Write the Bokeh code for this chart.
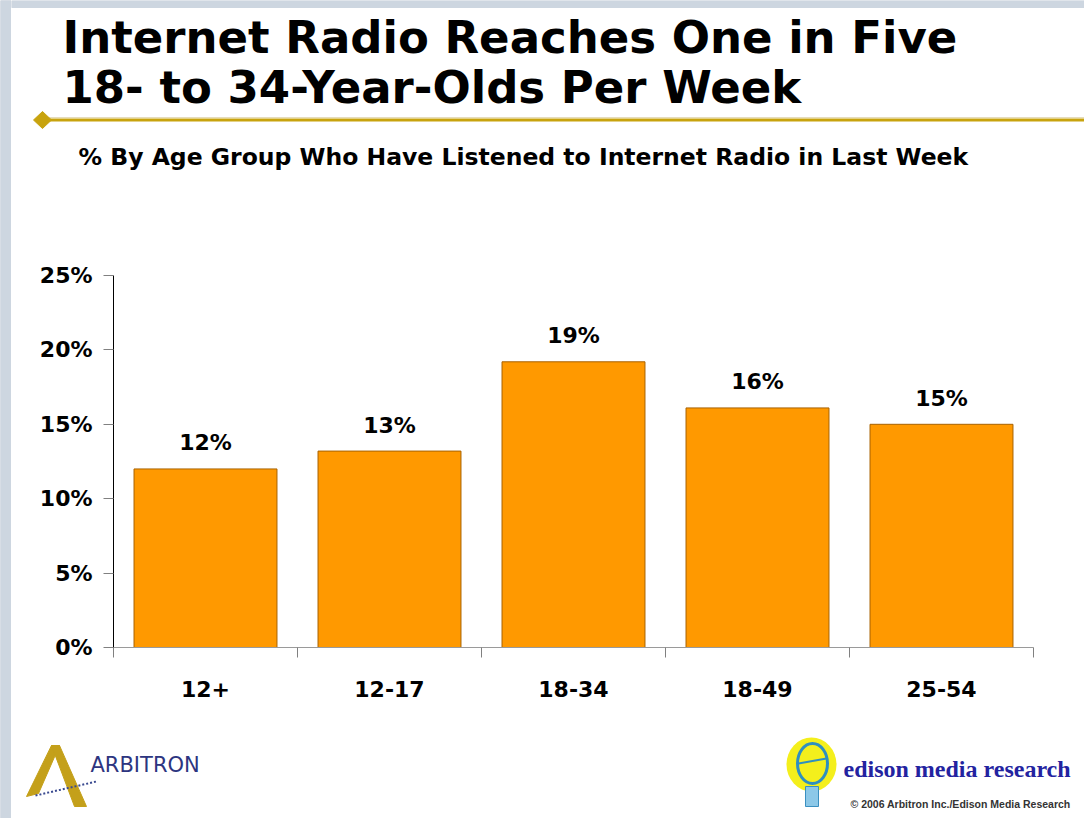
from bokeh.plotting import figure
from bokeh.models import Range1d, FixedTicker
from bokeh.layouts import row, column
from bokeh.core.properties import value
from bokeh.embed import file_html
from bokeh.resources import INLINE

# ---------------- data ----------------
categories = ["12+", "12-17", "18-34", "18-49", "25-54"]
pct_listened = [12.0, 13.2, 19.2, 16.1, 15.0]
y_ticks = [0, 5, 10, 15, 20, 25]
y_tick_labels = ["0%", "5%", "10%", "15%", "20%", "25%"]

title_lines = ["Internet Radio Reaches One in Five", "18- to 34-Year-Olds Per Week"]
subtitle = "% By Age Group Who Have Listened to Internet Radio in Last Week"
logo_left = "ARBITRON"
logo_right = "edison media research"
copyright_text = "\u00a9 2006 Arbitron Inc./Edison Media Research"

# ---------------- styles ----------------
BG = "#cdd6e0"
GOLD = "#c8a30e"
ORANGE = "#ff9900"
BAR_EDGE = "#a86200"
SANS = value("DejaVu Sans")
ARIAL = value("Liberation Sans")
SERIF = value("Liberation Serif")

W_MAIN = 1073  # canvas x 11..1084


def blank(width, height, xr, yr):
    f = figure(width=width, height=height, x_range=xr, y_range=yr,
               output_backend="svg", toolbar_location=None,
               x_axis_location=None, y_axis_location=None,
               min_border=0, outline_line_color=None,
               background_fill_color="white", border_fill_color="white")
    f.frame_align = False
    f.xgrid.visible = False
    f.ygrid.visible = False
    return f


# left blue-grey strip
stripe = blank(11, 818, Range1d(0, 1), Range1d(0, 1))
stripe.background_fill_color = BG
stripe.border_fill_color = BG
stripe.quad(left=[0], right=[1], bottom=[0], top=[1], color=BG)

# ---------------- header ----------------
hdr = blank(W_MAIN, 245, Range1d(11, 1084), Range1d(245, 0))
hdr.quad(left=[11], right=[1084], top=[0], bottom=[7], color=BG)
hdr.text(x=[62, 62], y=[37, 87], text=title_lines, text_font=SANS,
         text_font_style="bold", text_font_size="45px", text_color="black",
         text_baseline="alphabetic", text_align="left")
hdr.segment(x0=[42], y0=[117], x1=[1084], y1=[117], line_color="#e6dcbc", line_width=1)
hdr.segment(x0=[42], y0=[119.5], x1=[1084], y1=[119.5], line_color=GOLD, line_width=3)
hdr.patch(x=[33, 42, 51, 42], y=[119.5, 111, 119.5, 128], color=GOLD)
hdr.text(x=[78], y=[156], text=[subtitle], text_font=SANS, text_font_style="bold",
         text_font_size="23.5px", text_color="black",
         text_baseline="alphabetic", text_align="left")

# ---------------- chart ----------------
n = len(categories)
x_centers = [i + 0.5 for i in range(n)]
value_labels = [f"{round(v)}%" for v in pct_listened]

p = figure(width=W_MAIN, height=480, x_range=Range1d(0, n), y_range=Range1d(0, 25),
           output_backend="svg", toolbar_location=None,
           min_border_left=102, min_border_right=51, min_border_top=30, min_border_bottom=78,
           outline_line_color=None, background_fill_color="white", border_fill_color="white")
p.frame_align = False
p.xgrid.visible = False
p.ygrid.visible = False

p.vbar(x=x_centers, top=pct_listened, bottom=0, width=0.777,
       fill_color=ORANGE, line_color=BAR_EDGE, line_width=1)
p.text(x=x_centers, y=pct_listened, text=value_labels, y_offset=-26,
       text_font=SANS, text_font_style="bold", text_font_size="22px",
       text_color="black", text_align="center", text_baseline="alphabetic")

# y axis
p.yaxis.ticker = FixedTicker(ticks=y_ticks)
p.yaxis.major_label_overrides = {t: l for t, l in zip(y_ticks, y_tick_labels)}
p.yaxis.axis_line_color = "black"
p.yaxis.major_tick_line_color = "#808080"
p.yaxis.major_tick_out = 10
p.yaxis.major_tick_in = 0
p.yaxis.minor_tick_line_color = None
p.yaxis.major_label_standoff = 11
p.yaxis.major_label_text_font = "DejaVu Sans"
p.yaxis.major_label_text_font_style = "bold"
p.yaxis.major_label_text_font_size = "22px"
p.yaxis.major_label_text_color = "black"

# x axis
p.xaxis.ticker = FixedTicker(ticks=x_centers, minor_ticks=list(range(n + 1)))
p.xaxis.major_label_overrides = {x: c for x, c in zip(x_centers, categories)}
p.xaxis.axis_line_color = "#9a9a9a"
p.xaxis.major_tick_line_color = None
p.xaxis.major_tick_out = 0
p.xaxis.major_tick_in = 0
p.xaxis.minor_tick_line_color = "#808080"
p.xaxis.minor_tick_out = 10
p.xaxis.minor_tick_in = 0
p.xaxis.major_label_standoff = 23
p.xaxis.major_label_text_font = "DejaVu Sans"
p.xaxis.major_label_text_font_style = "bold"
p.xaxis.major_label_text_font_size = "22px"
p.xaxis.major_label_text_color = "black"

# ---------------- footer ----------------
ftr = blank(W_MAIN, 93, Range1d(11, 1084), Range1d(818, 725))
# Arbitron "A" mark
ftr.patch(x=[26, 51, 59, 38], y=[796, 745, 745, 793], color="#c4a01a")
ftr.patch(x=[51, 59, 86, 74], y=[745, 745, 806, 806], color="#c4a01a")
ftr.segment(x0=[35], y0=[795], x1=[96], y1=[781], line_color="#3a4a90",
            line_width=2, line_dash="2 2")
ftr.text(x=[90], y=[764], text=[logo_left], text_font=SANS, text_font_size="21px",
         text_color="#2d3580", text_baseline="alphabetic", text_align="left")
# Edison bulb mark
ftr.ellipse(x=[811], y=[764], width=[50], height=[54], fill_color="#f4ef1c",
            line_color=None)
ftr.ellipse(x=[812], y=[763], width=[30], height=[40], fill_color=None,
            line_color="#2f8fc0", line_width=3)
ftr.segment(x0=[798], y0=[763], x1=[826], y1=[758], line_color="#2f8fc0", line_width=2)
ftr.quad(left=[805], right=[818], top=[786], bottom=[806], fill_color="#8cc8e8",
         line_color="#3a8fc0", line_width=1)
ftr.text(x=[843], y=[768], text=[logo_right], text_font=SERIF, text_font_style="bold",
         text_font_size="24px", text_color="#2323a0",
         text_baseline="alphabetic", text_align="left")
ftr.text(x=[850], y=[803], text=[copyright_text], text_font=ARIAL, text_font_style="bold",
         text_font_size="10.5px", text_color="#333333",
         text_baseline="alphabetic", text_align="left")

layout = row(stripe, column(hdr, p, ftr, spacing=0), spacing=0)

open("out.html", "w").write(file_html(layout, INLINE))
